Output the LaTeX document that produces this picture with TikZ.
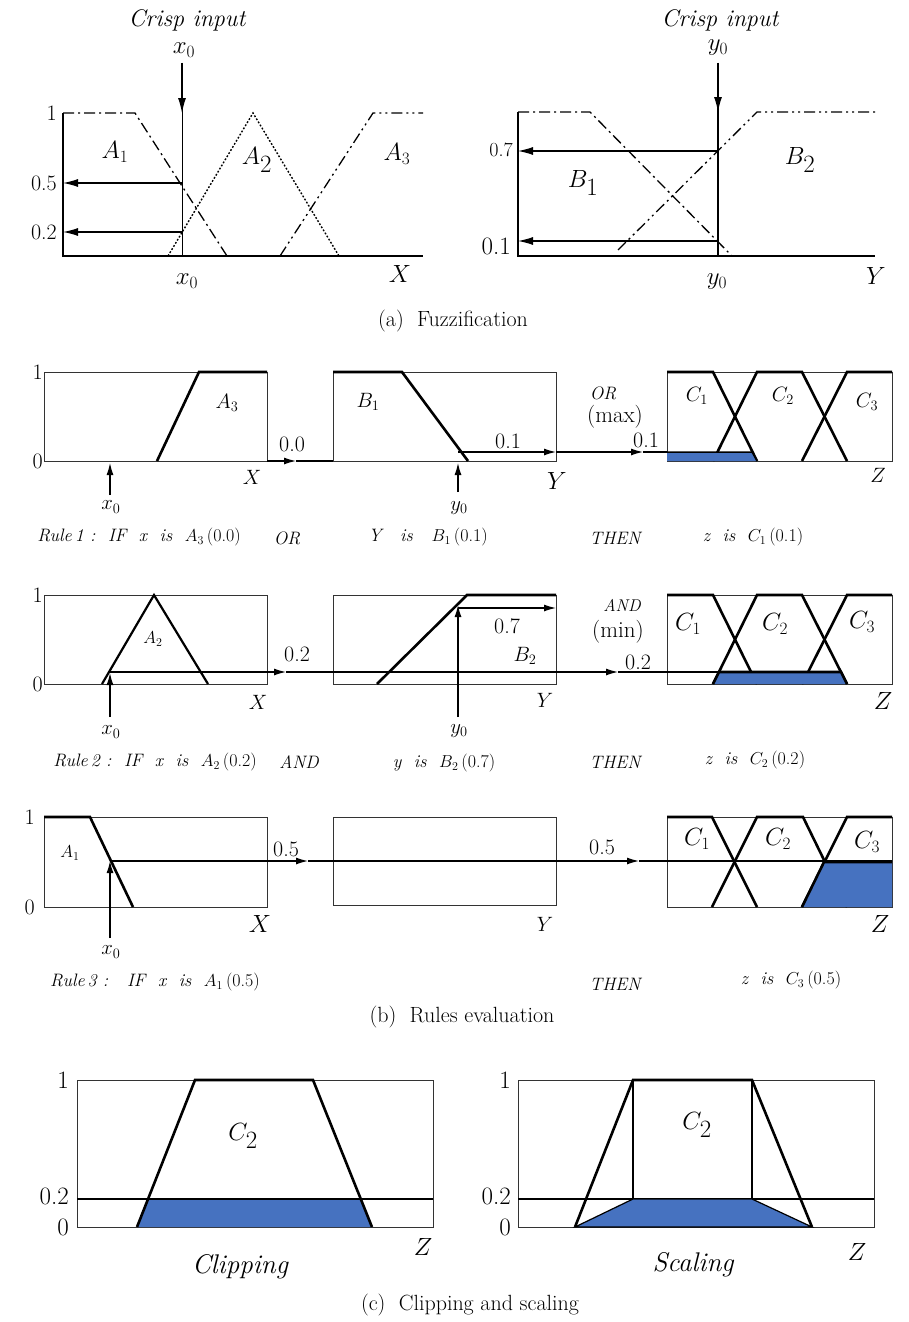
\documentclass[tikz,border=0pt]{standalone}
\usepackage{tikz}
\usetikzlibrary{arrows.meta,positioning}
\definecolor{clipblue}{RGB}{70,114,192}

\begin{document}
\begin{tikzpicture}[x=1pt,y=-1pt,
        axisline/.style={line width=1.8pt},
        mfbox/.style={draw=black!80, line width=1pt},
        mf/.style={line width=2.6pt, line join=miter},
        dashdot/.style={line width=1.3pt, dash pattern=on 11pt off 4pt on 2pt off 4pt},
        dashdotdot/.style={line width=1.3pt, dash pattern=on 11pt off 4pt on 2pt off 4pt on 2pt off 4pt},
        dotline/.style={line width=1.4pt, dash pattern=on 1.8pt off 1.8pt},
        bigarrow/.style={line width=1.2pt, -{Latex[length=15pt,width=8pt]}},
        arr/.style={line width=1.2pt, -{Latex[length=12pt,width=7pt]}},
        num/.style={font=\fontsize{22}{24}\selectfont, inner sep=1pt},
        bignum/.style={font=\fontsize{25}{28}\selectfont, inner sep=1pt},
        smallnum/.style={font=\fontsize{20}{22}\selectfont, inner sep=1pt},
        lab/.style={font=\fontsize{25}{29}\selectfont, inner sep=0pt},
        midlab/.style={font=\fontsize{21}{24}\selectfont, inner sep=0pt},
        ruletext/.style={font=\fontsize{18}{20}\selectfont\itshape, inner sep=0pt},
        crisp/.style={font=\fontsize{24}{28}\selectfont\itshape, inner sep=0pt},
        caption/.style={font=\fontsize{22}{26}\selectfont, inner sep=0pt}
    ]
    \useasboundingbox (0,0) rectangle (909,1322);

    % (a) fuzzification, input x
    \draw[axisline] (63,113) -- (63,256) -- (423,256);
    \draw[dashdot] (63,113) -- (135,113) -- (227,256);
    \draw[dotline] (168,256) -- (253,113) -- (339,256);
    \draw[dashdotdot] (280,256) -- (373,113) -- (423,113);
    \coordinate (xin) at (182,63);
    \coordinate (xtop) at (182,113);
    \coordinate (xfoot) at (182,256);
    \coordinate (xhalf) at (182,183);
    \coordinate (xfifth) at (182,232);
    \coordinate (axhalf) at (63,183);
    \coordinate (axfifth) at (63,232);
    \draw[line width=1pt] (xin) -- (xfoot);
    \draw[bigarrow] (xin) -- (xtop);
    \draw[bigarrow] (xhalf) -- (axhalf);
    \draw[bigarrow] (xfifth) -- (axfifth);
    \node (crispx) [crisp] at (187,20) {Crisp input};
    \node (xzero) [lab] at (184,50) {$x_0$};
    \node (xzerob) [lab] at (187,281) {$x_0$};
    \node (xaxis) [lab] at (400,274) {$X$};
    \node (aone) [num, left] at (58,113) {1};
    \node (ahalf) [num, left] at (58,183) {0.5};
    \node (afifth) [num, left] at (58,232) {0.2};
    \node (Aone) [lab] at (115,152) {$A_1$};
    \node (Atwo) [lab, font=\fontsize{28}{32}\selectfont] at (257,160) {$A_{\textstyle 2}$};
    \node (Athree) [lab] at (397,154) {$A_3$};

    % (a) fuzzification, input y
    \draw[axisline] (518,112) -- (518,256) -- (875,256);
    \draw[dashdot] (518,112) -- (590,112) -- (732,256);
    \draw[dashdotdot] (618,250) -- (757,112) -- (875,112);
    \coordinate (yin) at (718,63);
    \coordinate (ytop) at (718,112);
    \coordinate (yfoot) at (718,256);
    \coordinate (yseven) at (718,151);
    \coordinate (yone) at (718,241);
    \coordinate (ayseven) at (518,151);
    \coordinate (ayone) at (518,241);
    \draw[line width=1.2pt] (yin) -- (yfoot);
    \draw[bigarrow] (yin) -- (ytop);
    \draw[bigarrow] (yseven) -- (ayseven);
    \draw[bigarrow] (yone) -- (ayone);
    \node (crispy) [crisp] at (720,20) {Crisp input};
    \node (yzero) [lab] at (718,48) {$y_0$};
    \node (yzerob) [lab] at (717,282) {$y_0$};
    \node (yaxis) [lab] at (876,276) {$Y$};
    \node (bseven) [smallnum, left] at (514,150) {0.7};
    \node (bone) [bignum, left] at (512,246) {0.1};
    \node (Bone) [lab, font=\fontsize{26}{30}\selectfont] at (583,183) {$B_{\textstyle 1}$};
    \node (Btwo) [lab, font=\fontsize{26}{30}\selectfont] at (800,160) {$B_{\textstyle 2}$};

    \node (capa) [caption] at (453,321) {(a)\ \ Fuzzification};

    % (b) rule 1
    \draw[mfbox] (44,372) rectangle (267,461);
    \draw[mfbox] (333,372) rectangle (556,461);
    \draw[mfbox] (667,372) rectangle (892,461);
    \draw[mf] (157,461) -- (199,372) -- (267,372);
    \draw[mf] (333,372) -- (402,372) -- (468,461);
    \draw[mf] (667,372) -- (713,372) -- (757,461);
    \draw[mf] (713,461) -- (757,372) -- (802,372) -- (847,461);
    \draw[mf] (802,461) -- (847,372) -- (892,372);
    \fill[clipblue] (667,461) -- (667,452) -- (752,452) -- (757,461) -- cycle;
    \draw[line width=1.5pt] (667,452) -- (752,452) -- (757,461);
    \coordinate (ra) at (267,461);
    \coordinate (ram) at (296,461);
    \coordinate (rab) at (333,461);
    \coordinate (rbs) at (458,452);
    \coordinate (rbe) at (556,452);
    \coordinate (rcm) at (643,452);
    \coordinate (rce) at (667,452);
    \draw[arr] (ra) -- (ram);
    \draw[line width=1.2pt] (ram) -- (rab);
    \draw[arr] (rbs) -- (rbe);
    \draw[arr] (rbe) -- (rcm);
    \draw[line width=1.2pt] (rcm) -- (rce);
    \draw[arr] (110,495) -- (110,463);
    \draw[arr] (458,492) -- (458,463);
    \node (ronetop) [num, left] at (44,372) {1};
    \node (ronebot) [num, left] at (44,461) {0};
    \node (rAthree) [midlab] at (227,403) {$A_3$};
    \node (rBone) [midlab] at (368,402) {$B_1$};
    \node (rCone) [midlab] at (697,396) {$C_1$};
    \node (rCtwo) [midlab] at (783,396) {$C_2$};
    \node (rCthree) [midlab] at (867,402) {$C_3$};
    \node (rxzero) [midlab] at (111,507) {$x_0$};
    \node (ryzero) [midlab] at (459,508) {$y_0$};
    \node (rX) [midlab] at (252,477) {$X$};
    \node (rY) [lab, font=\fontsize{28}{32}\selectfont] at (557,481) {$Y$};
    \node (rZ) [midlab] at (878,475) {$Z$};
    \node (rzero) [num] at (292,444) {0.0};
    \node (rbone) [num] at (508,441) {0.1};
    \node (rcone) [num] at (646,440) {0.1};
    \node (ror) [ruletext] at (603,393) {OR};
    \node (rmax) [num, font=\fontsize{23}{25}\selectfont] at (615,417) {(max)};
    \node (rule1) [ruletext] at (139,537) {Rule\,1 :\ \ IF\ \ x\ \ is\ \ $A_3$\,\upshape(0.0)};
    \node (rule1or) [ruletext] at (287,538) {OR};
    \node (rule1y) [ruletext] at (428,537) {Y\ \ \ is\ \ \ $B_1$\,\upshape(0.1)};
    \node (rule1then) [ruletext] at (615,538) {THEN};
    \node (rule1z) [ruletext] at (753,537) {z\ \ is\ \ $C_1$\,\upshape(0.1)};

    % (b) rule 2
    \draw[mfbox] (44,595) rectangle (267,684);
    \draw[mfbox] (333,595) rectangle (556,684);
    \draw[mfbox] (667,595) rectangle (892,684);
    \draw[mf, line width=2.2pt] (102,684) -- (154,595) -- (208,684);
    \draw[mf] (377,684) -- (467,595) -- (556,595);
    \draw[mf] (667,595) -- (713,595) -- (757,684);
    \draw[mf] (713,684) -- (757,595) -- (802,595) -- (847,684);
    \draw[mf] (802,684) -- (847,595) -- (892,595);
    \coordinate (sa) at (110,672);
    \coordinate (sam) at (286,672);
    \coordinate (sbm) at (618,672);
    \coordinate (sce) at (719,672);
    \draw[arr] (sa) -- (sam);
    \draw[arr] (sam) -- (sbm);
    \draw[line width=1.2pt] (sbm) -- (sce);
    \fill[clipblue] (713,684) -- (719,672) -- (841,672) -- (847,684) -- cycle;
    \draw[mf] (713,684) -- (719,672) -- (841,672) -- (847,684);
    \draw[arr] (110,717) -- (110,673);
    \draw[line width=1.2pt] (458,717) -- (458,640);
    \draw[arr] (458,640) -- (458,605);
    \draw[arr] (458,608) -- (556,608);
    \node (stwotop) [num, left] at (44,595) {1};
    \node (stwobot) [num, left] at (44,684) {0};
    \node (sAtwo) [midlab, font=\fontsize{18}{21}\selectfont] at (153,639) {$A_2$};
    \node (sBtwo) [midlab] at (525,656) {$B_2$};
    \node (sCone) [lab, font=\fontsize{23}{26}\selectfont] at (688,624) {$C_1$};
    \node (sCtwo) [lab, font=\fontsize{23}{26}\selectfont] at (775,624) {$C_2$};
    \node (sCthree) [lab, font=\fontsize{23}{26}\selectfont] at (862,622) {$C_3$};
    \node (sxzero) [midlab] at (111,732) {$x_0$};
    \node (syzero) [midlab] at (459,731) {$y_0$};
    \node (sX) [midlab] at (258,702) {$X$};
    \node (sY) [midlab] at (545,700) {$Y$};
    \node (sZ) [lab, font=\fontsize{28}{32}\selectfont] at (883,701) {$Z$};
    \node (stwo) [num] at (297,654) {0.2};
    \node (sseven) [num] at (507,626) {0.7};
    \node (sctwo) [num] at (638,662) {0.2};
    \node (sand) [ruletext, font=\fontsize{17}{19}\selectfont\itshape] at (622,605) {AND};
    \node (smin) [num, font=\fontsize{23}{25}\selectfont] at (618,632) {(min)};
    \node (rule2) [ruletext] at (155,762) {Rule\,2 :\ \ IF\ \ x\ \ is\ \ $A_2$\,\upshape(0.2)};
    \node (rule2and) [ruletext] at (299,762) {AND};
    \node (rule2y) [ruletext] at (444,763) {y\ \ is\ \ $B_2$\,\upshape(0.7)};
    \node (rule2then) [ruletext] at (615,762) {THEN};
    \node (rule2z) [ruletext] at (755,760) {z\ \ is\ \ $C_2$\,\upshape(0.2)};

    % (b) rule 3
    \draw[mfbox] (44,817) rectangle (267,907);
    \draw[mfbox] (333,817) rectangle (556,905);
    \draw[mfbox] (667,817) rectangle (892,907);
    \draw[mf] (44,817) -- (90,817) -- (133,907);
    \draw[mf] (667,817) -- (712,817) -- (757,907);
    \draw[mf] (712,907) -- (757,817) -- (803,817) -- (847,907);
    \draw[mf] (802,907) -- (847,817) -- (892,817);
    \coordinate (ta) at (110,861);
    \coordinate (tam) at (308,861);
    \coordinate (tbm) at (639,861);
    \coordinate (tce) at (892,861);
    \draw[arr] (ta) -- (tam);
    \draw[arr] (tam) -- (tbm);
    \draw[line width=2.2pt] (tbm) -- (tce);
    \fill[clipblue] (802,907) -- (824,862) -- (892,862) -- (892,907) -- cycle;
    \draw[mf] (802,907) -- (824,862) -- (892,862);
    \draw[line width=1.2pt] (110,938) -- (110,890);
    \draw[arr] (110,890) -- (110,861);
    \node (tthreetop) [num, left] at (36,817) {1};
    \node (tthreebot) [num, left] at (36,907) {0};
    \node (tAone) [midlab, font=\fontsize{18}{21}\selectfont] at (70,853) {$A_1$};
    \node (tCone) [lab, font=\fontsize{23}{26}\selectfont] at (697,839) {$C_1$};
    \node (tCtwo) [lab, font=\fontsize{23}{26}\selectfont] at (778,839) {$C_2$};
    \node (tCthree) [lab, font=\fontsize{23}{26}\selectfont] at (867,842) {$C_3$};
    \node (txzero) [midlab] at (111,952) {$x_0$};
    \node (tX) [lab, font=\fontsize{28}{32}\selectfont] at (260,924) {$X$};
    \node (tY) [midlab] at (545,924) {$Y$};
    \node (tZ) [lab, font=\fontsize{28}{32}\selectfont] at (880,924) {$Z$};
    \node (tfive) [num] at (286,849) {0.5};
    \node (tcfive) [num] at (602,847) {0.5};
    \node (rule3) [ruletext] at (155,982) {Rule\,3 :\ \ \ IF\ \ x\ \ is\ \ $A_1$\,\upshape(0.5)};
    \node (rule3then) [ruletext] at (615,984) {THEN};
    \node (rule3z) [ruletext] at (791,980) {z\ \ is\ \ $C_3$\,\upshape(0.5)};

    \node (capb) [caption] at (462,1017) {(b)\ \ Rules evaluation};

    % (c) clipping
    \draw[mfbox] (77,1080) rectangle (433,1227);
    \fill[clipblue] (137,1227) -- (148,1199) -- (361,1199) -- (372,1227) -- cycle;
    \draw[line width=2.4pt] (77,1199) -- (433,1199);
    \draw[mf] (137,1227) -- (195,1080) -- (313,1080) -- (372,1227);
    \node (cone) [bignum, left] at (70,1080) {1};
    \node (cfifth) [bignum, left] at (70,1196) {0.2};
    \node (czero) [bignum, left] at (70,1227) {0};
    \node (cCtwo) [lab, font=\fontsize{30}{34}\selectfont] at (243,1136) {$C_{\textstyle 2}$};
    \node (cZ) [lab, font=\fontsize{29}{33}\selectfont] at (423,1247) {$Z$};
    \node (cclip) [crisp, font=\fontsize{27}{31}\selectfont\itshape] at (240,1267) {Clipping};

    % (c) scaling
    \draw[mfbox] (518,1080) rectangle (874,1227);
    \draw[line width=1.2pt] (518,1199) -- (874,1199);
    \draw[line width=1.2pt] (633,1080) -- (633,1199);
    \draw[line width=1.2pt] (752,1080) -- (752,1199);
    \filldraw[fill=clipblue, line width=1.2pt] (575,1227) -- (633,1199) -- (752,1199) -- (812,1227) -- cycle;
    \draw[mf] (575,1227) -- (633,1080) -- (752,1080) -- (812,1227);
    \node (sone) [bignum, left] at (512,1080) {1};
    \node (sfifth) [bignum, left] at (512,1196) {0.2};
    \node (szero) [bignum, left] at (512,1227) {0};
    \node (sCtwoc) [lab, font=\fontsize{30}{34}\selectfont] at (697,1125) {$C_{\textstyle 2}$};
    \node (sZc) [lab, font=\fontsize{29}{33}\selectfont] at (857,1252) {$Z$};
    \node (sscale) [crisp, font=\fontsize{27}{31}\selectfont\itshape] at (693,1265) {Scaling};

    \node (capc) [caption] at (470,1305) {(c)\ \ Clipping and scaling};
\end{tikzpicture}
\end{document}
